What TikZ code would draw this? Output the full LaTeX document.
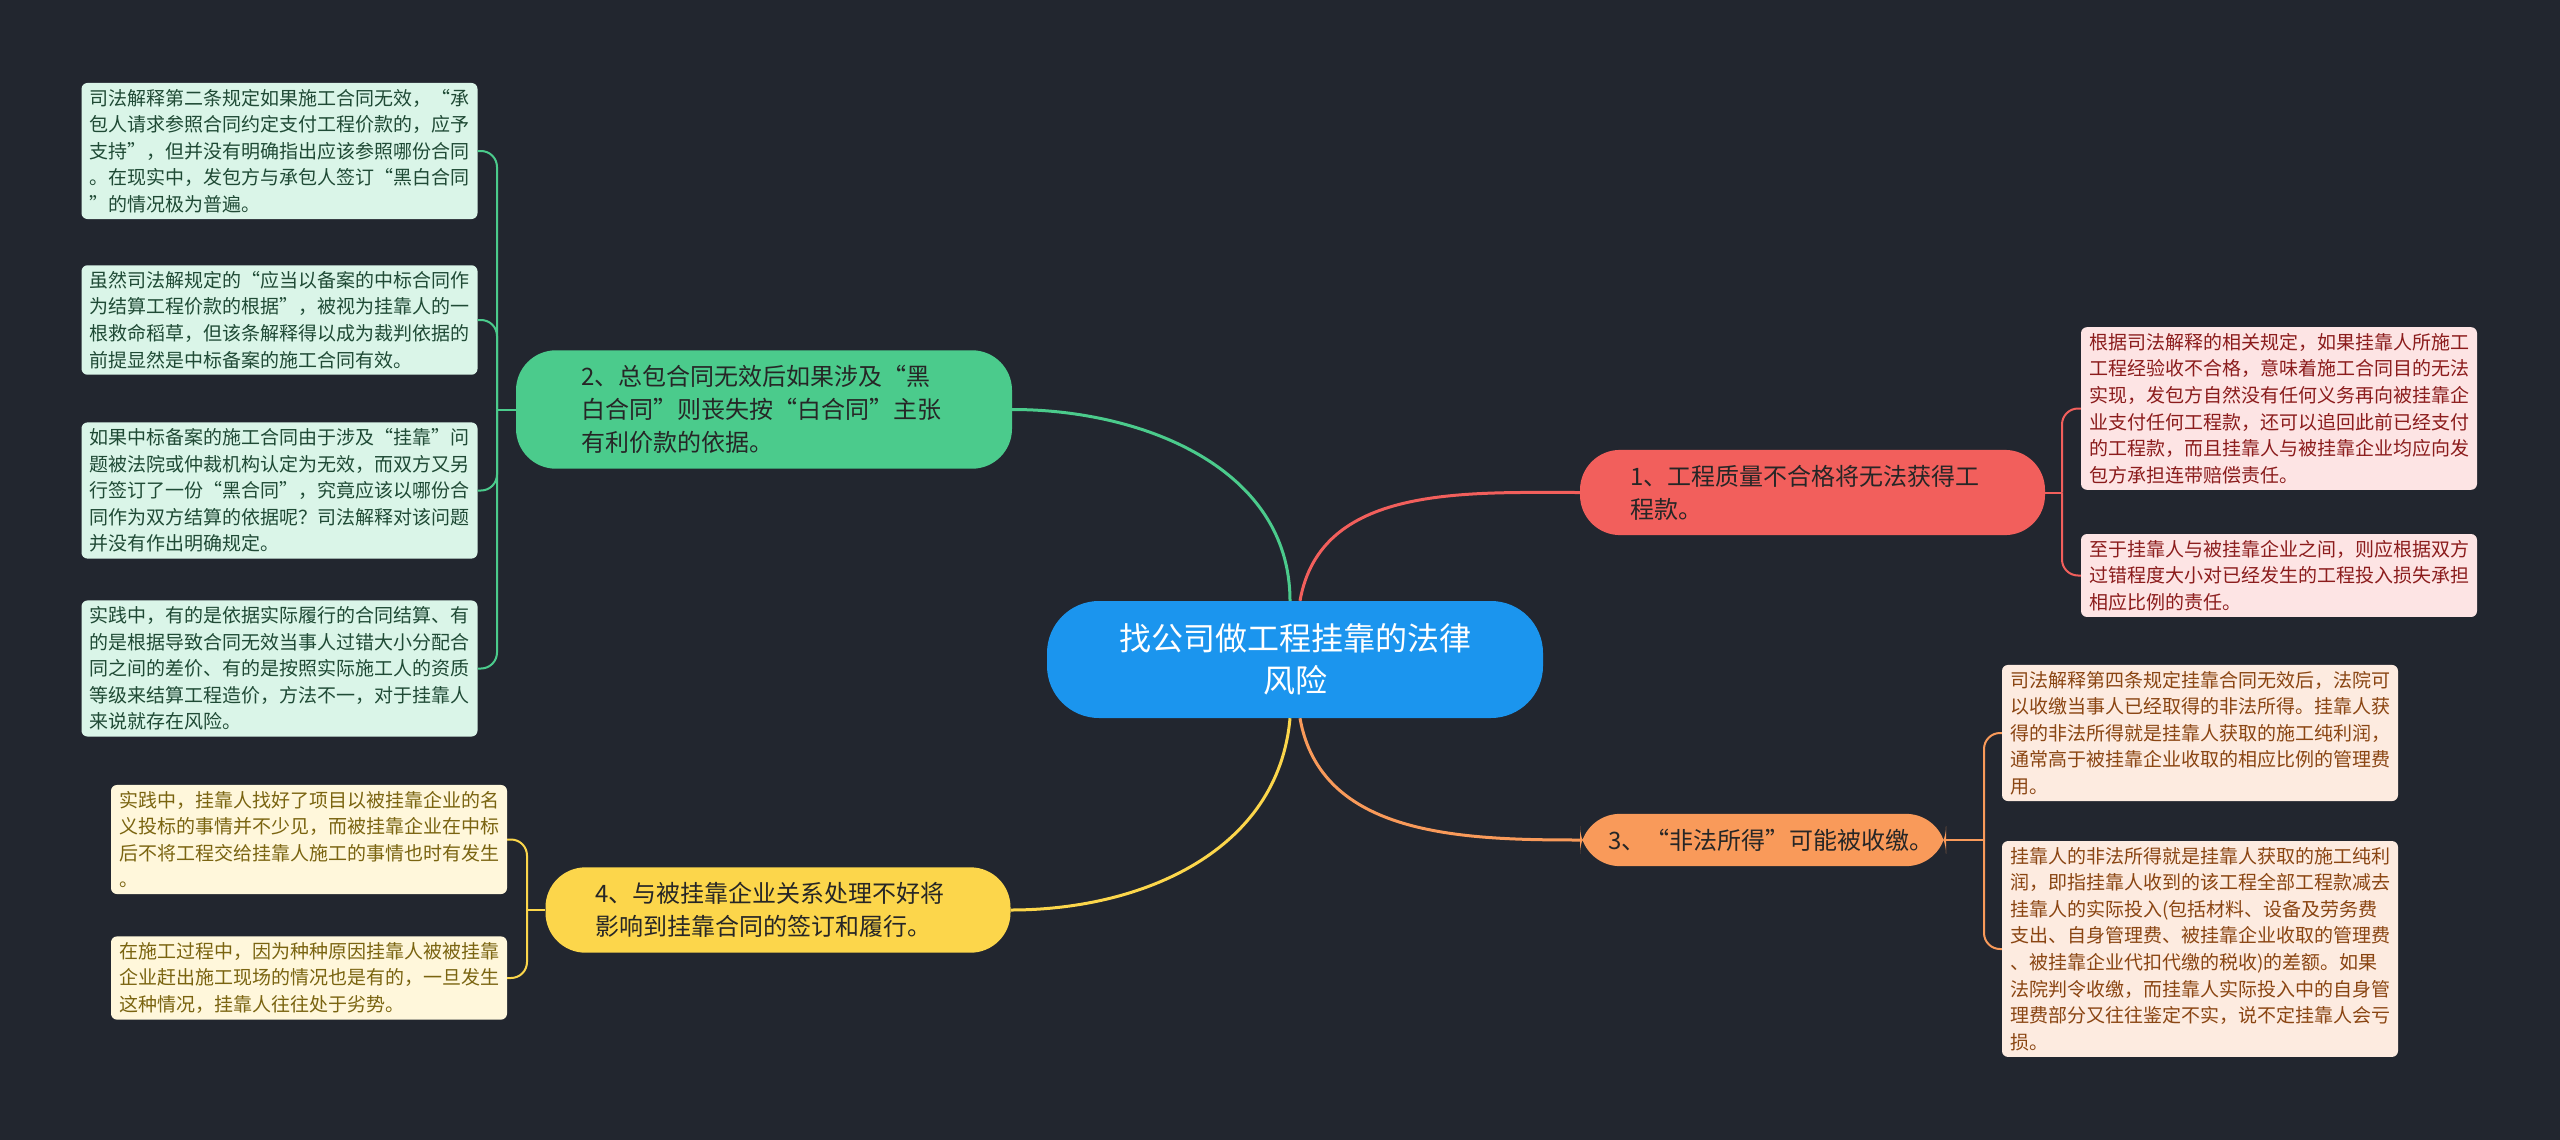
\documentclass[tikz,border=0pt]{standalone}
\usepackage{fontspec}
\setmainfont{Noto Sans CJK SC}

\definecolor{bgdark}{HTML}{22262F}
\definecolor{hubblue}{HTML}{1B95EE}
\definecolor{topicred}{HTML}{F25F5C}
\definecolor{topicgreen}{HTML}{4BCB8C}
\definecolor{topicorange}{HTML}{F99A5A}
\definecolor{topicyellow}{HTML}{FCD64B}
\definecolor{leafgreen}{HTML}{DAF5E8}
\definecolor{leafgreentext}{HTML}{1F4A35}
\definecolor{leafred}{HTML}{FDE4E4}
\definecolor{leafredtext}{HTML}{8B1C1C}
\definecolor{leaforange}{HTML}{FDEBE0}
\definecolor{leaforangetext}{HTML}{8A4512}
\definecolor{leafyellow}{HTML}{FFF7DB}
\definecolor{leafyellowtext}{HTML}{7A6410}

\begin{document}
\begin{tikzpicture}[x = 1pt, y = 1pt,
  hub/.style = {fill=hubblue, text=white, rounded corners=52pt, align=center,
    minimum width=496pt, minimum height=117pt,
    font=\fontsize{32}{42}\selectfont},
  topic/.style = {rounded corners=40pt, text=black!85, align=left,
    text width=365pt, inner xsep=50pt, inner ysep=15pt,
    font=\fontsize{24}{33}\selectfont},
  leaf/.style = {rounded corners=6pt, align=left, text width=380pt,
    inner xsep=8pt, inner ysep=6pt, font=\fontsize{19}{26.6}\selectfont},
  link/.style = {line width=3pt},
  twig/.style = {line width=2pt, rounded corners=16pt}]

% the canvas
\useasboundingbox[fill=bgdark] (0, 0) rectangle (2560, -1140);

% the centre and the four topics
\node[hub] (ctr) at (1295, -659.5) {找公司做工程挂靠的法律\\风险};
\node[topic, fill=topicred] (t1) at (1812.5, -492.5)
  {1、工程质量不合格将无法获得工\\程款。};
\node[topic, fill=topicgreen, minimum width=496pt] (t2) at (764, -409.5)
  {2、总包合同无效后如果涉及“黑\\白合同”则丧失按“白合同”主张\\有利价款的依据。};
\node[topic, fill=topicorange, text width=310pt, inner xsep=28pt] (t3) at (1763, -840)
  {3、“非法所得”可能被收缴。};
\node[topic, fill=topicyellow] (t4) at (778, -910)
  {4、与被挂靠企业关系处理不好将\\影响到挂靠合同的签订和履行。};

% leaves of topic 2
\node[leaf, fill=leafgreen, text=leafgreentext] (g1) at (279.5, -151)
  {司法解释第二条规定如果施工合同无效，“承\\包人请求参照合同约定支付工程价款的，应予\\支持”，但并没有明确指出应该参照哪份合同\\。在现实中，发包方与承包人签订“黑白合同\\”的情况极为普遍。};
\node[leaf, fill=leafgreen, text=leafgreentext] (g2) at (279.5, -320)
  {虽然司法解规定的“应当以备案的中标合同作\\为结算工程价款的根据”，被视为挂靠人的一\\根救命稻草，但该条解释得以成为裁判依据的\\前提显然是中标备案的施工合同有效。};
\node[leaf, fill=leafgreen, text=leafgreentext] (g3) at (279.5, -490.5)
  {如果中标备案的施工合同由于涉及“挂靠”问\\题被法院或仲裁机构认定为无效，而双方又另\\行签订了一份“黑合同”，究竟应该以哪份合\\同作为双方结算的依据呢？司法解释对该问题\\并没有作出明确规定。};
\node[leaf, fill=leafgreen, text=leafgreentext] (g4) at (279.5, -668.5)
  {实践中，有的是依据实际履行的合同结算、有\\的是根据导致合同无效当事人过错大小分配合\\同之间的差价、有的是按照实际施工人的资质\\等级来结算工程造价，方法不一，对于挂靠人\\来说就存在风险。};

% leaves of topic 4
\node[leaf, fill=leafyellow, text=leafyellowtext] (y1) at (309, -839.5)
  {实践中，挂靠人找好了项目以被挂靠企业的名\\义投标的事情并不少见，而被挂靠企业在中标\\后不将工程交给挂靠人施工的事情也时有发生\\。};
\node[leaf, fill=leafyellow, text=leafyellowtext] (y2) at (309, -978)
  {在施工过程中，因为种种原因挂靠人被被挂靠\\企业赶出施工现场的情况也是有的，一旦发生\\这种情况，挂靠人往往处于劣势。};

% leaves of topic 1
\node[leaf, fill=leafred, text=leafredtext] (r1) at (2279, -408.5)
  {根据司法解释的相关规定，如果挂靠人所施工\\工程经验收不合格，意味着施工合同目的无法\\实现，发包方自然没有任何义务再向被挂靠企\\业支付任何工程款，还可以追回此前已经支付\\的工程款，而且挂靠人与被挂靠企业均应向发\\包方承担连带赔偿责任。};
\node[leaf, fill=leafred, text=leafredtext] (r2) at (2279, -575.5)
  {至于挂靠人与被挂靠企业之间，则应根据双方\\过错程度大小对已经发生的工程投入损失承担\\相应比例的责任。};

% leaves of topic 3
\node[leaf, fill=leaforange, text=leaforangetext] (o1) at (2200, -733)
  {司法解释第四条规定挂靠合同无效后，法院可\\以收缴当事人已经取得的非法所得。挂靠人获\\得的非法所得就是挂靠人获取的施工纯利润，\\通常高于被挂靠企业收取的相应比例的管理费\\用。};
\node[leaf, fill=leaforange, text=leaforangetext] (o2) at (2200, -949)
  {挂靠人的非法所得就是挂靠人获取的施工纯利\\润，即指挂靠人收到的该工程全部工程款减去\\挂靠人的实际投入(包括材料、设备及劳务费\\支出、自身管理费、被挂靠企业收取的管理费\\、被挂靠企业代扣代缴的税收)的差额。如果\\法院判令收缴，而挂靠人实际投入中的自身管\\理费部分又往往鉴定不实，说不定挂靠人会亏\\损。};

% from the centre to the topics
\draw[link, topicgreen] ([xshift=-5pt]ctr.north) to[out=90, in=0] (t2.east);
\draw[link, topicred] ([xshift=5pt]ctr.north) to[out=80, in=180] (t1.west);
\draw[link, topicorange] ([xshift=5pt]ctr.south) to[out=-80, in=180] (t3.west);
\draw[link, topicyellow] ([xshift=-5pt]ctr.south) to[out=-95, in=0] (t4.east);

% from the topics to their leaves
\coordinate (gj) at (497, -409.5);
\draw[twig, topicgreen] (t2.west) -- (gj);
\foreach \l in {g1, g2, g3, g4} \draw[twig, topicgreen] (gj) |- (\l.east);

\coordinate (yj) at (527, -910);
\draw[twig, topicyellow] (t4.west) -- (yj);
\foreach \l in {y1, y2} \draw[twig, topicyellow] (yj) |- (\l.east);

\coordinate (rj) at (2062, -492.5);
\draw[twig, topicred] (t1.east) -- (rj);
\foreach \l in {r1, r2} \draw[twig, topicred] (rj) |- (\l.west);

\coordinate (oj) at (1984, -840);
\draw[twig, topicorange] (t3.east) -- (oj);
\foreach \l in {o1, o2} \draw[twig, topicorange] (oj) |- (\l.west);

\end{tikzpicture}
\end{document}
